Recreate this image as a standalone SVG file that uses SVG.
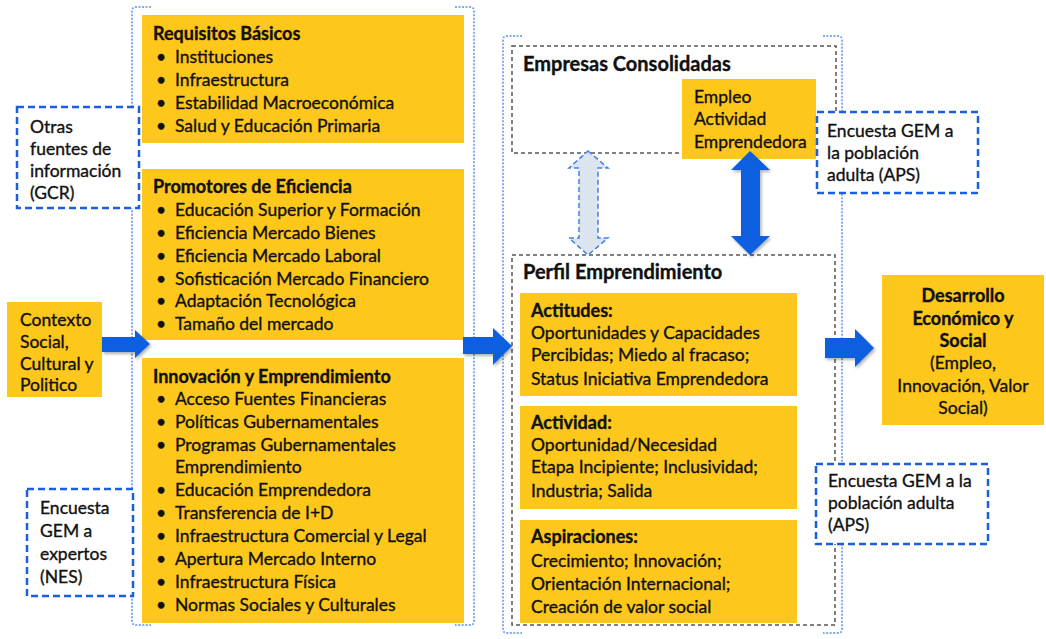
<svg xmlns="http://www.w3.org/2000/svg" width="1046" height="639" viewBox="0 0 1046 639">
<style>
text{font-family:Lato,"Liberation Sans",sans-serif;font-size:17.5px;fill:#111;stroke:#111;stroke-width:0.35}
.h{font-weight:bold;font-size:18px}
.hb{font-weight:bold;font-size:20px}
.y{fill:#FDC71B}
.br{fill:none;stroke:#5B8FE6;stroke-width:1.5;stroke-dasharray:2 1.5}
.bd{fill:#fff;stroke:#1A5FE0;stroke-width:2.5;stroke-dasharray:7 4}
.gd{fill:none;stroke:#555;stroke-width:1.5;stroke-dasharray:4 3}
.ar{fill:#0A5FE0;filter:url(#sh)}
</style>
<defs>
<filter id="sh" x="-20%" y="-20%" width="150%" height="150%">
<feDropShadow dx="1.5" dy="2" stdDeviation="1.5" flood-color="#000" flood-opacity="0.3"/>
</filter>
</defs>

<g id="bracket-left">
<path class="br" d="M151,7 H136 Q132,7 132,11 V621 Q132,625 136,625 H151"/>
<path class="br" d="M455,7 H470 Q474,7 474,11 V621 Q474,625 470,625 H455"/>
</g>
<g id="bracket-mid">
<path class="br" d="M522,36 H507 Q503,36 503,40 V629 Q503,633 507,633 H522"/>
<path class="br" d="M823,36 H838 Q842,36 842,40 V629 Q842,633 838,633 H823"/>
</g>

<g id="requisitos">
<rect class="y" x="142" y="15" width="322" height="128"/>
<text class="h" x="153" y="40">Requisitos  Básicos</text>
<text x="156" y="63">•</text><text x="175" y="63">Instituciones</text>
<text x="156" y="86">•</text><text x="175" y="86">Infraestructura</text>
<text x="156" y="109">•</text><text x="175" y="109">Estabilidad Macroeconómica</text>
<text x="156" y="132">•</text><text x="175" y="132">Salud y Educación Primaria</text>
</g>

<g id="promotores">
<rect class="y" x="142" y="169" width="322" height="171"/>
<text class="h" x="153" y="193">Promotores de Eficiencia</text>
<text x="156" y="216">•</text><text x="175" y="216">Educación Superior y Formación</text>
<text x="156" y="239">•</text><text x="175" y="239">Eficiencia Mercado Bienes</text>
<text x="156" y="262">•</text><text x="175" y="262">Eficiencia Mercado Laboral</text>
<text x="156" y="285">•</text><text x="175" y="285">Sofisticación Mercado Financiero</text>
<text x="156" y="307">•</text><text x="175" y="307">Adaptación Tecnológica</text>
<text x="156" y="330">•</text><text x="175" y="330">Tamaño del mercado</text>
</g>

<g id="innovacion">
<rect class="y" x="142" y="358" width="322" height="265"/>
<text class="h" x="153" y="383">Innovación y Emprendimiento</text>
<text x="156" y="405">•</text><text x="175" y="405">Acceso Fuentes  Financieras</text>
<text x="156" y="428">•</text><text x="175" y="428">Políticas Gubernamentales</text>
<text x="156" y="451">•</text><text x="175" y="451">Programas Gubernamentales</text>
<text x="175" y="473">Emprendimiento</text>
<text x="156" y="496">•</text><text x="175" y="496">Educación Emprendedora</text>
<text x="156" y="519">•</text><text x="175" y="519">Transferencia de I+D</text>
<text x="156" y="542">•</text><text x="175" y="542">Infraestructura Comercial y Legal</text>
<text x="156" y="565">•</text><text x="175" y="565">Apertura Mercado Interno</text>
<text x="156" y="588">•</text><text x="175" y="588">Infraestructura Física</text>
<text x="156" y="611">•</text><text x="175" y="611">Normas Sociales y Culturales</text>
</g>

<g id="otras-fuentes">
<rect class="bd" x="17" y="107" width="122" height="101"/>
<text x="30" y="133">Otras</text>
<text x="30" y="155">fuentes de</text>
<text x="30" y="177">información</text>
<text x="30" y="199">(GCR)</text>
</g>

<g id="contexto">
<rect class="y" x="7" y="302" width="95" height="95"/>
<text x="20" y="326">Contexto</text>
<text x="20" y="348">Social,</text>
<text x="20" y="370">Cultural y</text>
<text x="20" y="391">Politico</text>
</g>

<g id="nes">
<rect class="bd" x="27" y="489" width="106" height="107"/>
<text x="40" y="514">Encuesta</text>
<text x="40" y="537">GEM a</text>
<text x="40" y="560">expertos</text>
<text x="40" y="583">(NES)</text>
</g>

<g id="empresas">
<rect class="gd" x="512" y="46" width="324" height="107"/>
<text class="hb" x="523" y="71">Empresas Consolidadas</text>
</g>

<g id="empleo">
<rect class="y" x="682" y="79" width="134" height="80"/>
<text x="694" y="103">Empleo</text>
<text x="694" y="125">Actividad</text>
<text x="694" y="148">Emprendedora</text>
</g>

<g id="aps1">
<rect class="bd" x="817" y="112" width="161" height="81"/>
<text x="827" y="137">Encuesta GEM a</text>
<text x="827" y="159">la población</text>
<text x="827" y="181">adulta (APS)</text>
</g>

<g id="perfil">
<rect class="gd" x="512" y="255" width="323" height="370"/>
<text class="hb" x="523" y="279">Perfil  Emprendimiento</text>
</g>

<g id="actitudes">
<rect class="y" x="520" y="293" width="277" height="103"/>
<text class="h" x="531" y="317">Actitudes:</text>
<text x="531" y="339">Oportunidades y Capacidades</text>
<text x="531" y="361">Percibidas; Miedo al fracaso;</text>
<text x="531" y="385">Status Iniciativa Emprendedora</text>
</g>

<g id="actividad">
<rect class="y" x="520" y="406" width="277" height="103"/>
<text class="h" x="531" y="429">Actividad:</text>
<text x="531" y="451">Oportunidad/Necesidad</text>
<text x="531" y="473">Etapa Incipiente; Inclusividad;</text>
<text x="531" y="497">Industria; Salida</text>
</g>

<g id="aspiraciones">
<rect class="y" x="520" y="520" width="277" height="103"/>
<text class="h" x="531" y="543">Aspiraciones:</text>
<text x="531" y="567">Crecimiento; Innovación;</text>
<text x="531" y="590">Orientación Internacional;</text>
<text x="531" y="613">Creación de valor social</text>
</g>

<g id="aps2">
<rect class="bd" x="816" y="464" width="172" height="80"/>
<text x="828" y="487">Encuesta GEM a la</text>
<text x="828" y="509">población adulta</text>
<text x="828" y="531">(APS)</text>
</g>

<g id="desarrollo">
<rect class="y" x="882" y="275" width="162" height="150"/>
<g text-anchor="middle">
<text class="h" x="963" y="302">Desarrollo</text>
<text class="h" x="963" y="325">Económico y</text>
<text class="h" x="963" y="347">Social</text>
<text x="963" y="369">(Empleo,</text>
<text x="963" y="392">Innovación, Valor</text>
<text x="963" y="414">Social)</text>
</g>
</g>

<g id="connectors">
<path class="ar" d="M102,337 H135 V330 L150,344 L135,358 V352 H102 Z"/>
<path class="ar" d="M463,337 H493 V328 L512,346 L493,365 V354 H463 Z"/>
<path class="ar" d="M825,338 H855 V329 L874,348 L855,367 V358 H825 Z"/>
<path class="ar" d="M750,151 L770,170 H760 V236 H770 L750,255 L731,236 H741 V170 H731 Z"/>
<path d="M588,151 L608,168 H598 V238 H608 L588,255 L569,238 H579 V168 H569 Z" fill="#DCE4F0" stroke="#3F82E8" stroke-width="1.5" stroke-dasharray="5 3"/>
</g>
</svg>
